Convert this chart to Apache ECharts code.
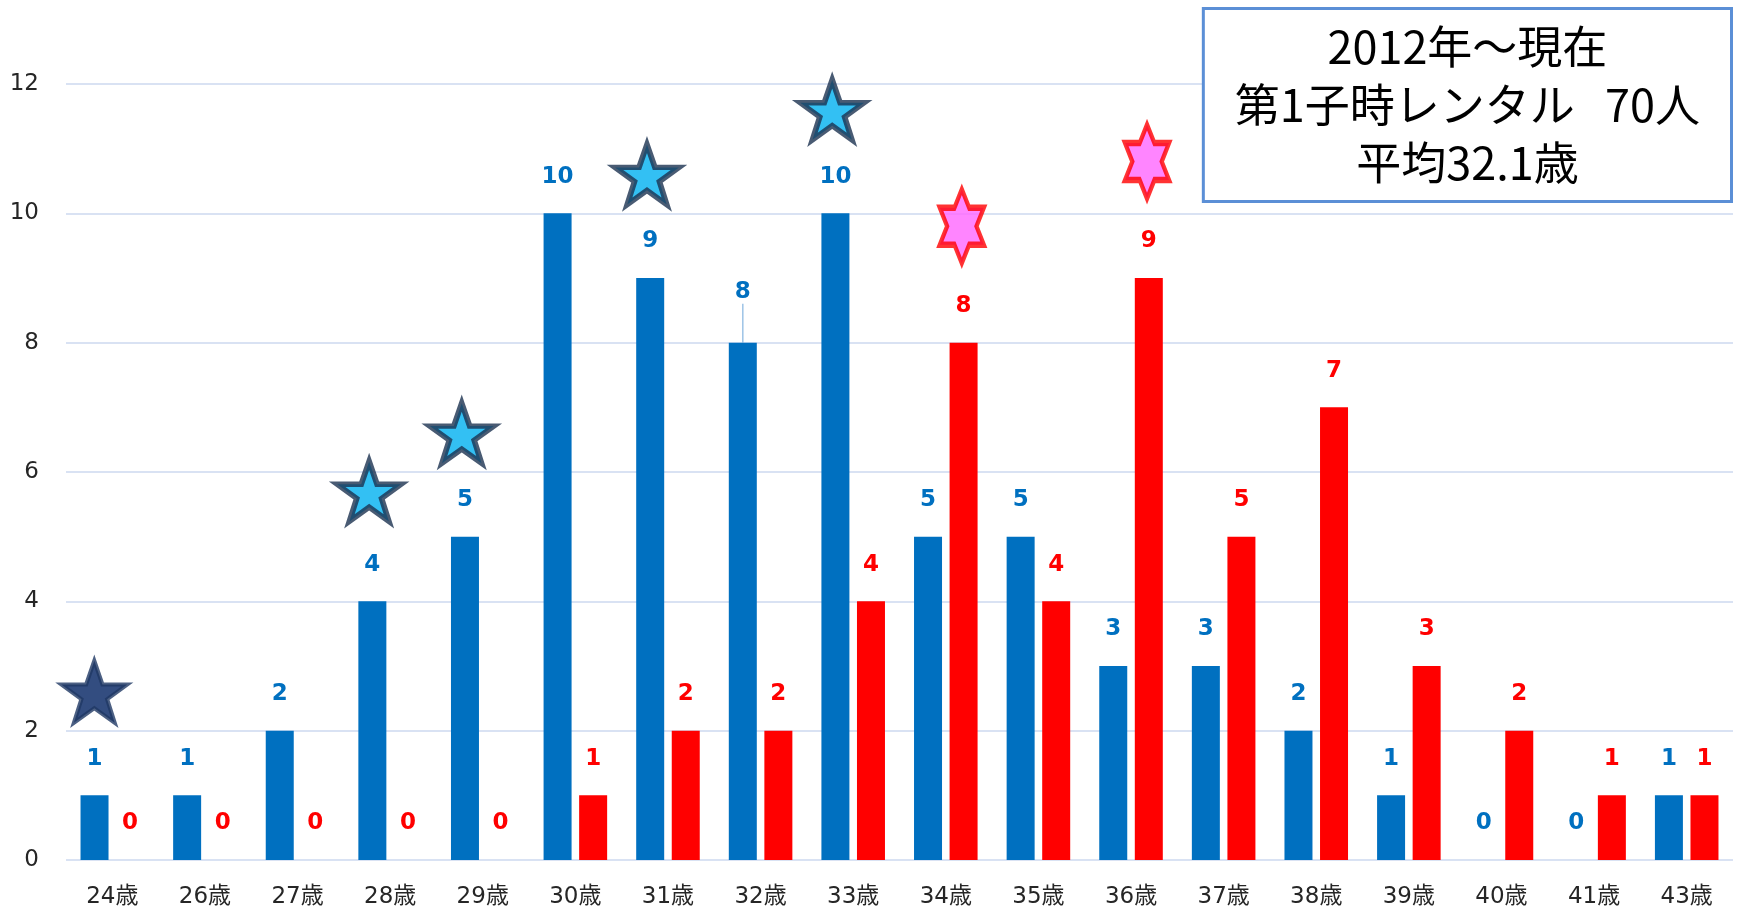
<!DOCTYPE html>
<html>
<head>
<meta charset="utf-8">
<script src="https://cdn.jsdelivr.net/npm/echarts@6/dist/echarts.min.js"></script>
<style>
  html, body { margin: 0; padding: 0; background: #fff; }
  #chart { width: 1742px; height: 913px; }
</style>
</head>
<body>
<div id="chart"></div>
<script>
// カテゴリ（年齢）
const ages = ['24歳', '26歳', '27歳', '28歳', '29歳', '30歳', '31歳', '32歳', '33歳',
  '34歳', '35歳', '36歳', '37歳', '38歳', '39歳', '40歳', '41歳', '43歳'];
// 青
const blueCounts = [1, 1, 2, 4, 5, 10, 9, 8, 10, 5, 5, 3, 3, 2, 1, 0, 0, 1];
// 赤
const redCounts = [0, 0, 0, 0, 0, 1, 2, 2, 4, 8, 4, 9, 5, 7, 3, 2, 1, 1];
// 星マーク（高さは図から読み取り）
const darkStarLevel = [2.6, null, null, null, null, null, null, null, null,
  null, null, null, null, null, null, null, null, null];
const blueStarLevel = [null, null, null, 5.7, 6.6, null, 10.6, null, 11.6,
  null, null, null, null, null, null, null, null, null];
const pinkStarLevel = [null, null, null, null, null, null, null, null, null,
  9.8, null, 10.8, null, null, null, null, null, null];
const yTicks = [0, 2, 4, 6, 8, 10, 12];
const titleLines = ['2012年～現在', '第1子時レンタル   70人', '平均32.1歳'];

const FONT = "'DejaVu Sans', 'Noto Sans CJK JP', sans-serif";
const STAR = 'path://M50,0 L61.8,34.5 L97.6,34.5 L68.5,55.9 L79.4,90.5 L50,69.1 L20.6,90.5 L31.5,55.9 L2.4,34.5 L38.2,34.5 Z';
const HEXAGRAM = 'path://M87,0 L115.9,50 L173.6,50 L144.7,100 L173.6,150 L115.9,150 L87,200 L58.1,150 L0.4,150 L29.3,100 L0.4,50 L58.1,50 Z';

const chart = echarts.init(document.getElementById('chart'));

const barLabel = function (color) {
  return {
    show: true,
    position: 'top',
    distance: 25,
    color: color,
    fontFamily: FONT,
    fontWeight: 'bold',
    fontSize: 23,
  };
};

chart.setOption({
  animation: false,
  graphic: [
    {
      type: 'text',
      right: 9,
      top: 7,
      z: 10,
      style: {
        text: titleLines.join('\n'),
        fontFamily: "'Noto Sans CJK JP', sans-serif",
        fontSize: 45,
        lineHeight: 58,
        fill: '#000000',
        align: 'center',
        textAlign: 'center',
        backgroundColor: '#ffffff',
        borderColor: '#5B8FD6',
        borderWidth: 3,
        padding: [8, 30, 8, 30],
      },
    },
  ],
  grid: {
    left: 66,
    right: 9,
    top: 84,
    bottom: 53,
  },
  xAxis: {
    type: 'category',
    data: ages,
    axisLine: { show: false },
    axisTick: { show: false },
    axisLabel: {
      margin: 26,
      color: '#262626',
      fontFamily: FONT,
      fontSize: 23,
    },
  },
  yAxis: {
    type: 'value',
    min: yTicks[0],
    max: yTicks[yTicks.length - 1],
    interval: 2,
    axisLine: { show: false },
    axisTick: { show: false },
    axisLabel: {
      margin: 27,
      color: '#262626',
      fontFamily: FONT,
      fontSize: 23,
    },
    splitLine: {
      lineStyle: { color: '#D9E2F3', width: 2 },
    },
  },
  series: [
    {
      name: 'blue',
      type: 'bar',
      data: blueCounts.map(function (v, i) {
        if (i === 7) {
          // 32歳 はラベルが引き出し線付きで上にずれている
          return {
            value: v,
            labelLine: { show: true, lineStyle: { color: '#9DC3E6', width: 1.5 } },
          };
        }
        return v;
      }),
      barWidth: 28,
      barGap: '27%',
      itemStyle: { color: '#0070C0' },
      label: barLabel('#0070C0'),
      labelLayout: function (params) {
        if (params.dataIndex === 7) {
          return { dy: -14 };
        }
        return {};
      },
      z: 2,
    },
    {
      name: 'red',
      type: 'bar',
      data: redCounts,
      barWidth: 28,
      itemStyle: { color: '#FF0000' },
      label: barLabel('#FF0000'),
      z: 2,
    },
    {
      name: 'darkStar',
      type: 'scatter',
      data: darkStarLevel,
      symbol: STAR,
      symbolSize: [66, 62],
      symbolOffset: [-18, 0],
      itemStyle: { color: '#002060', borderColor: '#1F3864', borderWidth: 4 },
      z: 5,
    },
    {
      name: 'blueStar',
      type: 'scatter',
      data: blueStarLevel,
      symbol: STAR,
      symbolSize: [64, 60],
      symbolOffset: [-21, 0],
      itemStyle: { color: '#00B0F0', borderColor: '#1B3250', borderWidth: 5.5 },
      z: 5,
    },
    {
      name: 'pinkStar',
      type: 'scatter',
      data: pinkStarLevel,
      symbol: HEXAGRAM,
      symbolSize: [44, 74],
      symbolOffset: [16, 0],
      itemStyle: { color: '#FF66FF', borderColor: '#FF0000', borderWidth: 5 },
      z: 5,
    },
  ],
});

window.addEventListener('resize', chart.resize);
</script>
</body>
</html>
